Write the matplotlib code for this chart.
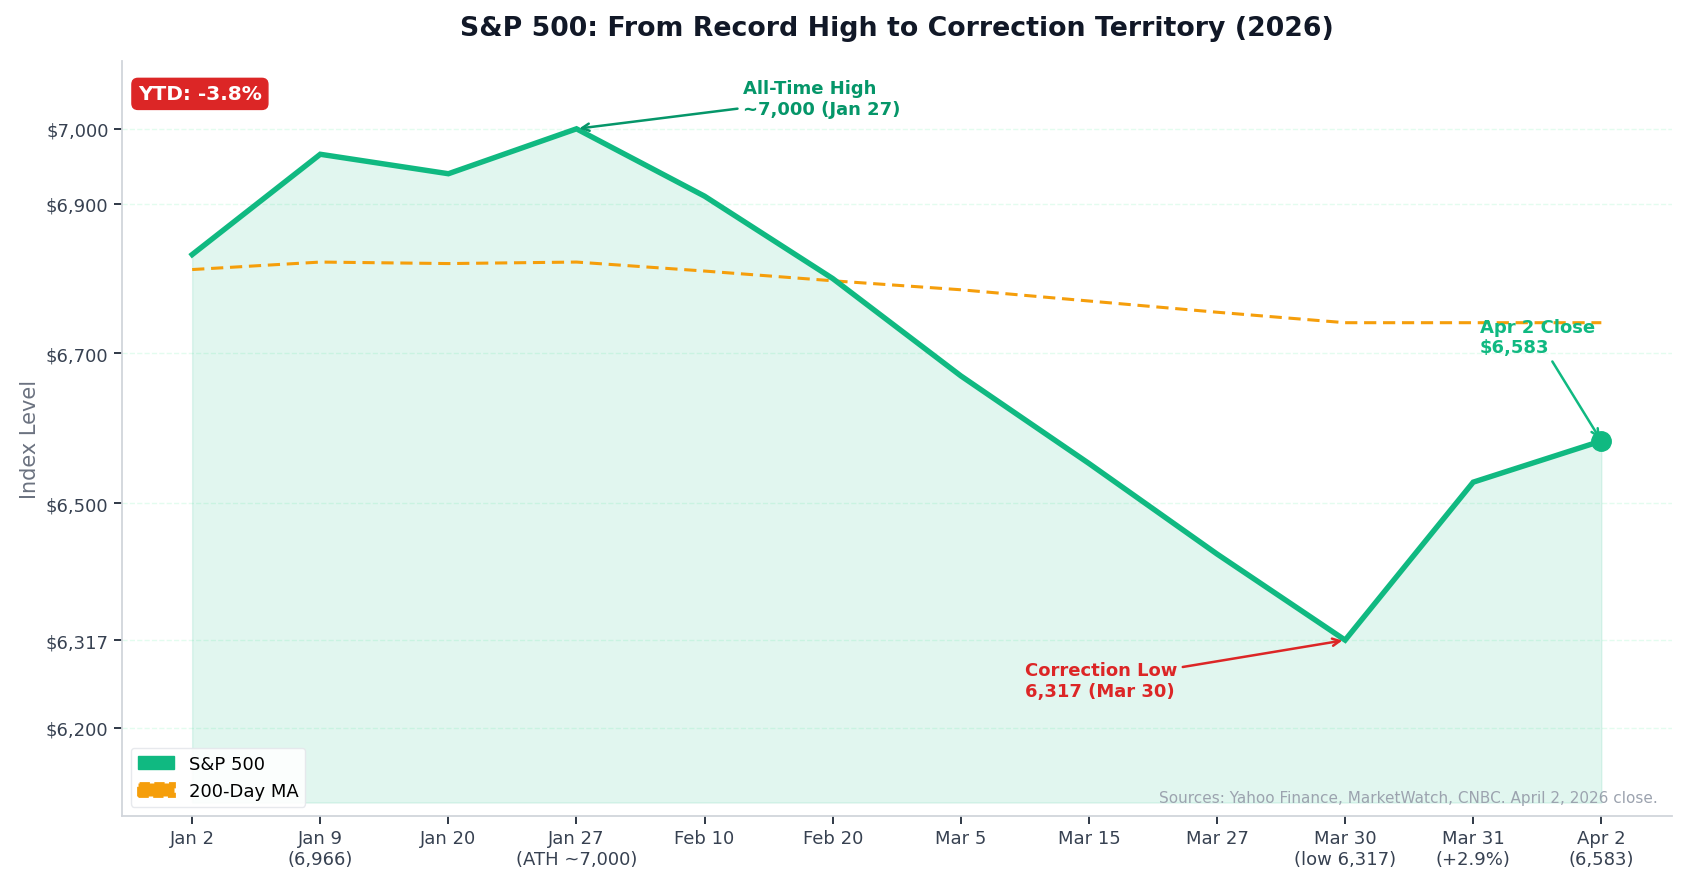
import matplotlib
matplotlib.use("Agg")
from matplotlib import pyplot as plt
from matplotlib.patches import Patch
import numpy as np

plt.rcParams["font.family"] = ["DejaVu Sans"]

# data
dates = ["Jan 2", "Jan 9\n(6,966)", "Jan 20", "Jan 27\n(ATH ~7,000)", "Feb 10", "Feb 20",
         "Mar 5", "Mar 15", "Mar 27", "Mar 30\n(low 6,317)", "Mar 31\n(+2.9%)", "Apr 2\n(6,583)"]
spx = [6832, 6966, 6940, 7000, 6910, 6800, 6670, 6553, 6432, 6317, 6528, 6583]
ma200 = [6812, 6822, 6820, 6822, 6810, 6797, 6785, 6770, 6755, 6741, 6741, 6741]
ytick_vals = [6200, 6317, 6500, 6700, 6900, 7000]

green = "#10b981"
dark_green = "#059669"
orange = "#f59e0b"
red = "#dc2626"

fig = plt.figure(figsize=(16.88, 8.87), dpi=100)
ax = fig.add_axes([0.0721, 0.0789, 0.9183, 0.8507])

x = np.arange(len(dates))
ax.fill_between(x, spx, 6100, color=green, alpha=0.12)
ax.plot(x, spx, color=green, lw=3.9, solid_joinstyle="miter", zorder=3)
ax.plot(x, ma200, color=orange, lw=2.2, ls=(0, (4, 2.2)), zorder=2)
ax.plot(x[-1], spx[-1], "o", color=green, markersize=14, zorder=4)

ax.set_xlim(-0.55, len(dates) - 0.45)
ax.set_ylim(6082, 7090)
ax.set_xticks(x)
ax.set_xticklabels(dates, fontsize=13, color="#374151")
ax.set_yticks(ytick_vals)
ax.set_yticklabels([f"${v:,}" for v in ytick_vals], fontsize=13, color="#374151")
ax.tick_params(axis="both", length=6, width=1.3, color="#1f2937")
ax.grid(axis="y", ls="--", color="#d1fae5", alpha=0.6, lw=1)
ax.set_axisbelow(True)

for s in ["top", "right"]:
    ax.spines[s].set_visible(False)
for s in ["left", "bottom"]:
    ax.spines[s].set_color("#d1d5db")
    ax.spines[s].set_linewidth(1.3)

ax.set_ylabel("Index Level", fontsize=15, color="#6b7280")
ax.set_title("S&P 500: From Record High to Correction Territory (2026)",
             fontsize=19.3, fontweight="bold", color="#111827", pad=19)

ax.annotate("All-Time High\n~7,000 (Jan 27)", xy=(3, 7000), xytext=(4.3, 7041),
            fontsize=13, fontweight="bold", color=dark_green, ha="left", va="center",
            arrowprops=dict(arrowstyle="->", color=dark_green, lw=1.8))
ax.annotate("Correction Low\n6,317 (Mar 30)", xy=(9, 6317), xytext=(6.5, 6263),
            fontsize=13, fontweight="bold", color=red, ha="left", va="center",
            arrowprops=dict(arrowstyle="->", color=red, lw=1.8))
ax.annotate("Apr 2 Close\n$6,583", xy=(11, 6583), xytext=(10.05, 6722),
            fontsize=13, fontweight="bold", color=green, ha="left", va="center",
            arrowprops=dict(arrowstyle="->", color=green, lw=1.8))

ax.text(0.0105, 0.957, "YTD: -3.8%", transform=ax.transAxes, fontsize=14.5,
        fontweight="bold", color="white", ha="left", va="center",
        bbox=dict(boxstyle="round,pad=0.3", facecolor=red, edgecolor=red))

ax.text(0.991, 0.015, "Sources: Yahoo Finance, MarketWatch, CNBC. April 2, 2026 close.",
        transform=ax.transAxes, fontsize=11, color="#9ca3af", ha="right", va="bottom")

handles = [Patch(facecolor=green, edgecolor=green, label="S&P 500"),
           Patch(facecolor=orange, edgecolor=orange, linestyle="--", lw=2, label="200-Day MA")]
ax.legend(handles=handles, loc="lower left", fontsize=13, framealpha=0.9,
          edgecolor="#e5e7eb", borderaxespad=0.5)

fig.savefig("out.png", dpi=100)
